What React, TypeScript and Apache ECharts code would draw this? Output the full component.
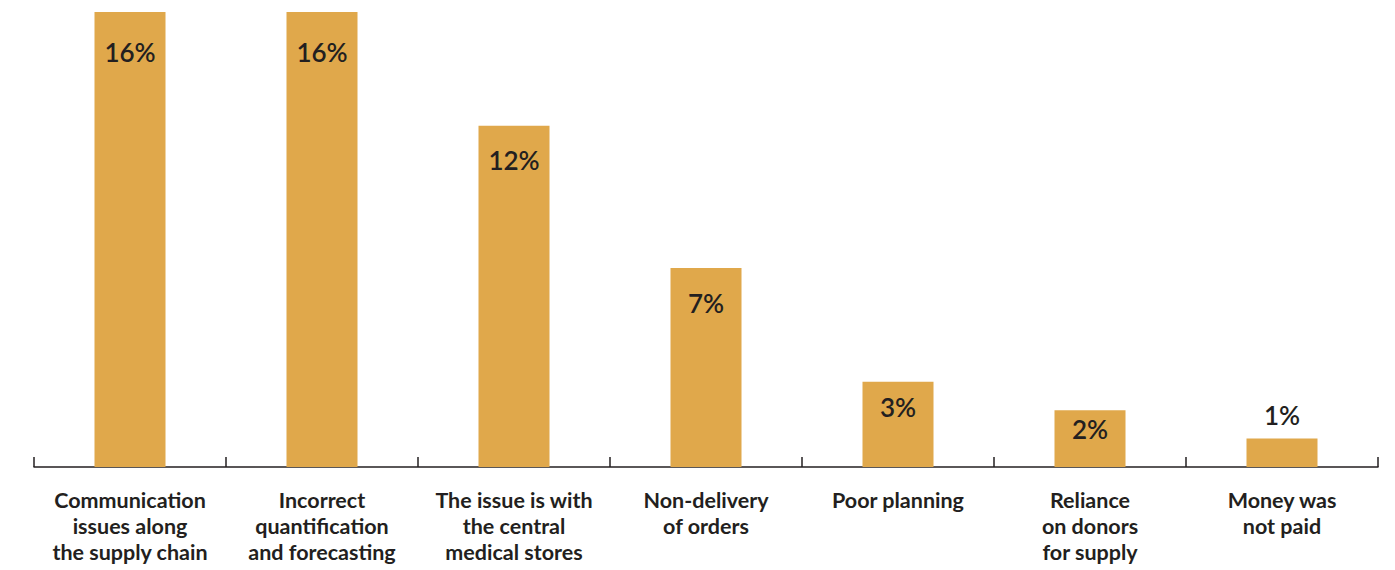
import React, { useEffect, useRef } from "react";
import * as echarts from "echarts";

const categories = [
  "Communication\nissues along\nthe supply chain",
  "Incorrect\nquantification\nand forecasting",
  "The issue is with\nthe central\nmedical stores",
  "Non-delivery\nof orders",
  "Poor planning",
  "Reliance\non donors\nfor supply",
  "Money was\nnot paid",
];
const values = [16, 16, 12, 7, 3, 2, 1];
const labelInside = [true, true, true, true, true, true, false];
const labelDistance = [27, 27, 21, 22, 12, 6, 11];

export default function App() {
  const ref = useRef<HTMLDivElement>(null);
  useEffect(() => {
    document.body.style.margin = "0";
    document.body.style.overflow = "hidden";
    if (!ref.current) return;
    const chart = echarts.init(ref.current, null, { renderer: "svg" });
    chart.setOption({
      animation: false,
      grid: { left: 34, right: 17, top: 12, bottom: 103, containLabel: false },
      xAxis: {
        type: "category",
        data: categories,
        axisLine: { lineStyle: { color: "#231f20", width: 1.5 } },
        axisTick: { show: true, inside: true, length: 10, lineStyle: { color: "#231f20", width: 1.5 } },
        axisLabel: {
          interval: 0,
          margin: 20,
          color: "#231f20",
          fontFamily: "Lato",
          fontWeight: "bold",
          fontSize: 21.5,
          lineHeight: 26,
          align: "center",
        },
      },
      yAxis: {
        type: "value",
        min: 0,
        max: 16,
        show: false,
        splitLine: { show: false },
      },
      series: [
        {
          type: "bar",
          barWidth: 71,
          itemStyle: { color: "#e0a84b" },
          data: values.map((v, i) => ({
            value: v,
            label: {
              show: true,
              position: labelInside[i] ? "insideTop" : "top",
              distance: labelDistance[i],
              formatter: "{c}%",
              color: "#231f20",
              fontFamily: "Lato",
              fontWeight: 600,
              fontSize: 26,
            },
          })),
        },
      ],
    });
    return () => chart.dispose();
  }, []);
  return <div ref={ref} style={{ width: 1395, height: 570 }} />;
}
